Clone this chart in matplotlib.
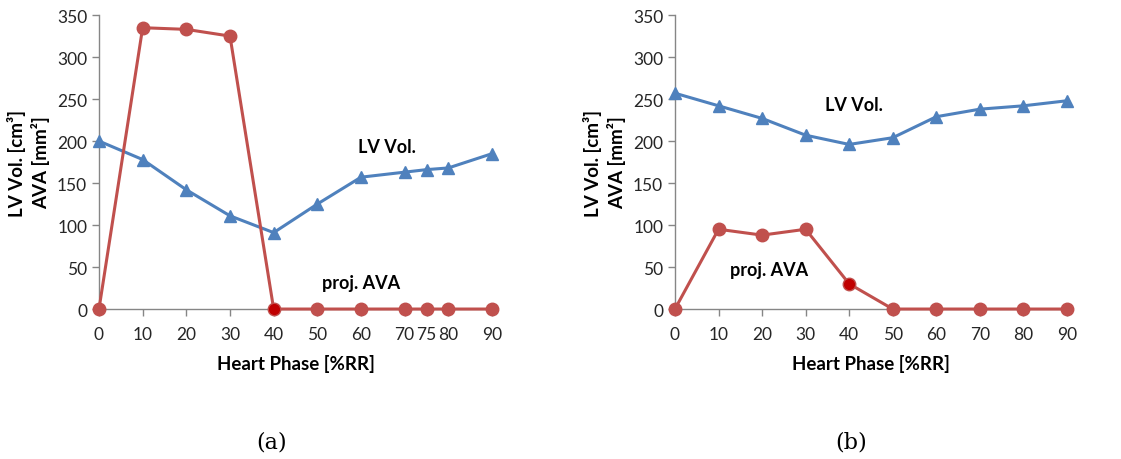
import numpy as np
import matplotlib
matplotlib.use('Agg')
from matplotlib import pyplot as plt

plt.rcParams['font.family'] = ['Lato', 'DejaVu Sans']

phase_a = [0, 10, 20, 30, 40, 50, 60, 70, 75, 80, 90]
lv_a = [200, 178, 142, 111, 91, 125, 157, 163, 166, 168, 185]
ava_a = [0, 335, 333, 325, 0, 0, 0, 0, 0, 0, 0]

phase_b = [0, 10, 20, 30, 40, 50, 60, 70, 80, 90]
lv_b = [257, 242, 227, 207, 196, 204, 229, 238, 242, 248]
ava_b = [0, 95, 88, 95, 30, 0, 0, 0, 0, 0]

# phase where the AVA marker is drawn in dark red
mark_phase = 40

blue = '#4F81BD'
red = '#C0504D'
dark_red = '#C00000'
axis_gray = '#868686'

fig = plt.figure(figsize=(11.21, 4.6), dpi=100)
ax_a = fig.add_axes([0.0883, 0.326, 0.3506, 0.639])
ax_b = fig.add_axes([0.6021, 0.326, 0.3497, 0.639])


def draw(ax, phase, lv, ava, lv_pos, ava_pos):
    ax.plot(phase, lv, color=blue, lw=2.2, marker='^', ms=9, clip_on=False, zorder=3)
    ax.plot(phase, ava, color=red, lw=2.2, marker='o', ms=9, clip_on=False, zorder=3)
    i = phase.index(mark_phase)
    ax.plot(phase[i], ava[i], color=dark_red, marker='o', ms=7, ls='none',
            clip_on=False, zorder=4)
    ax.text(*lv_pos, 'LV Vol.', ha='center', va='center', fontsize=13, fontweight='bold')
    ax.text(*ava_pos, 'proj. AVA', ha='center', va='center', fontsize=13, fontweight='bold')
    ax.set_xlim(0, 90)
    ax.set_ylim(0, 350)
    ax.set_xticks(phase)
    ax.set_yticks(np.arange(0, 351, 50))
    for s in ['top', 'right']:
        ax.spines[s].set_visible(False)
    for s in ['left', 'bottom']:
        ax.spines[s].set_color(axis_gray)
        ax.spines[s].set_linewidth(1.0)
    ax.tick_params(axis='both', colors=axis_gray, labelcolor='#262626', labelsize=12.5,
                   length=5, width=1.0)
    ax.tick_params(axis='x', pad=7)
    ax.set_xlabel('Heart Phase [%RR]', fontsize=13.5, fontweight='bold', labelpad=9)
    ax.set_ylabel('LV Vol. [cm³]\nAVA [mm²]', fontsize=13.5, fontweight='bold',
                  labelpad=5, linespacing=1.3)


draw(ax_a, phase_a, lv_a, ava_a, (66, 193), (60, 32))
draw(ax_b, phase_b, lv_b, ava_b, (41, 243), (21.6, 47.6))

fig.text(272 / 1121, 1 - 443 / 460, '(a)', ha='center', va='center', fontsize=16,
         family=['DejaVu Serif'])
fig.text(851 / 1121, 1 - 443 / 460, '(b)', ha='center', va='center', fontsize=16,
         family=['DejaVu Serif'])

plt.savefig('out.png', dpi=100)
